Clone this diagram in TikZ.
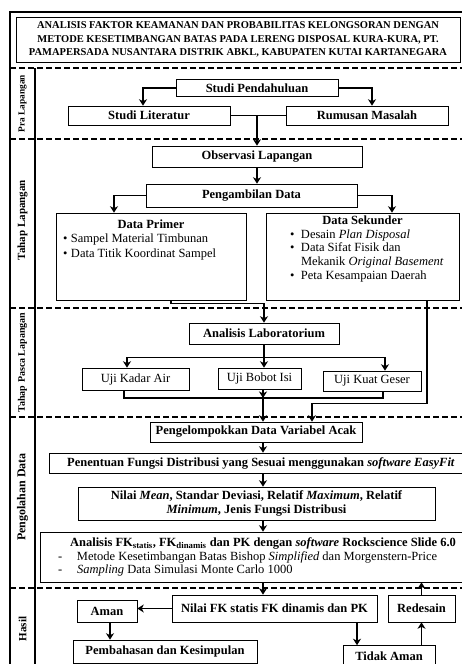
\documentclass[tikz,border=0pt]{standalone}
\usepackage{fontspec}
\setmainfont{Liberation Serif}
\usetikzlibrary{positioning, arrows.meta}

\newcommand{\boxfont}{\fontsize{12.5}{13.6}\selectfont}

\begin{document}
\begin{tikzpicture}[x=1pt, y=-1pt,
  stage/.style={draw, line width=0.6pt, inner sep=1pt, align=center, font=\boxfont\bfseries},
  plain/.style={stage, font=\boxfont},
  phase/.style={rotate=90, inner sep=0pt},
  flow/.style={line width=1.5pt, -{Stealth[length=6.5pt, width=8pt, inset=2pt]}},
  link/.style={line width=1.5pt},
  border/.style={dash pattern=on 6pt off 3pt, line width=1.3pt},
]
  \path[use as bounding box, clip] (0,0) rectangle (462,664);

  \draw[line width=1.6pt] (480,12) -- (10,12) -- (10,680);
  \draw[line width=2.4pt] (35,68) -- (35,680);
  \foreach \y in {68,139,308,417,588}
    \draw[border] (10,\y) -- (480,\y);

  \node[stage, font=\fontsize{10.5}{13.5}\selectfont\bfseries, minimum width=444pt, minimum height=45pt] (title) at (238,39.5)
    {ANALISIS FAKTOR KEAMANAN DAN PROBABILITAS KELONGSORAN DENGAN\\
     METODE KESETIMBANGAN BATAS PADA LERENG DISPOSAL KURA-KURA, PT.\\
     PAMAPERSADA NUSANTARA DISTRIK ABKL, KABUPATEN KUTAI KARTANEGARA};

  \node[phase, font=\fontsize{9.3}{10}\selectfont\bfseries] (pra) at (22.5,103.5) {Pra Lapangan};
  \node[phase, font=\fontsize{11}{12}\selectfont\bfseries] (lapangan) at (22.5,220) {Tahap Lapangan};
  \node[phase, font=\fontsize{10}{11}\selectfont\bfseries] (pasca) at (22.5,362.5) {Tahap Pasca Lapangan};
  \node[phase, font=\fontsize{12}{13}\selectfont\bfseries] (olah) at (22.5,497) {Pengolahan Data};
  \node[phase, font=\fontsize{11}{12}\selectfont\bfseries] (hasil) at (22.5,629) {Hasil};

  \node[stage, minimum width=162pt, minimum height=17pt] (pendahuluan) at (257,88) {Studi Pendahuluan};
  \node[stage, minimum width=162pt, minimum height=19pt] (literatur) at (149,115.5) {Studi Literatur};
  \node[stage, minimum width=162pt, minimum height=19pt] (rumusan) at (367,115.5) {Rumusan Masalah};
  \node[stage, minimum width=210pt, minimum height=21pt] (observasi) at (257,156.5) {Observasi Lapangan};
  \node[stage, minimum width=211pt, minimum height=23pt] (pengambilan) at (251.5,195.5) {Pengambilan Data};

  \node[plain, inner sep=3pt] (primer) at (151,256.5) {\parbox[t][81pt][t]{184pt}{\vspace*{4pt}%
    {\centering\bfseries Data Primer\par}
    \hspace*{4pt}\makebox[8pt][l]{\textbullet}Sampel Material Timbunan\\[1.4pt]
    \hspace*{4pt}\makebox[8pt][l]{\textbullet}Data Titik Koordinat Sampel}};
  \node[plain, inner sep=3pt] (sekunder) at (362.5,256.5) {\parbox[t][81pt][t]{187pt}{%
    {\centering\bfseries Data Sekunder\par}
    \hspace*{21pt}\makebox[11pt][l]{\textbullet}Desain \textit{Plan Disposal}\\
    \hspace*{21pt}\makebox[11pt][l]{\textbullet}Data Sifat Fisik dan\\
    \hspace*{32pt}Mekanik \textit{Original Basement}\\
    \hspace*{21pt}\makebox[11pt][l]{\textbullet}Peta Kesampaian Daerah}};

  \node[stage, minimum width=150pt, minimum height=21pt] (analab) at (264,333.5) {Analisis Laboratorium};
  \node[plain, minimum width=107pt, minimum height=22pt] (kadar) at (135.5,379) {Uji Kadar Air};
  \node[plain, minimum width=83pt, minimum height=21pt] (bobot) at (259.5,378.5) {Uji Bobot Isi};
  \node[plain, minimum width=98pt, minimum height=20pt] (geser) at (372,381) {Uji Kuat Geser};

  \node[stage, minimum width=212pt, minimum height=20pt] (kelompok) at (256,432) {Pengelompokkan Data Variabel Acak};
  \node[stage, minimum width=424pt, minimum height=20pt] (penentuan) at (261,463)
    {Penentuan Fungsi Distribusi yang Sesuai menggunakan \textit{software EasyFit}};
  \node[stage, minimum width=357pt, minimum height=33pt] (nilaimean) at (256.5,503.5)
    {Nilai \textit{Mean}, Standar Deviasi, Relatif \textit{Maximum}, Relatif\\
     \textit{Minimum}, Jenis Fungsi Distribusi};
  \node[plain, inner sep=3pt, minimum height=50pt] (analisisfk) at (263,557) {\parbox{440pt}{%
    {\centering\bfseries Analisis FK\textsubscript{statis}, FK\textsubscript{dinamis} dan PK dengan \textit{software} Rockscience Slide 6.0\par}
    \hspace*{15pt}\makebox[19pt][l]{-}Metode Kesetimbangan Batas Bishop \textit{Simplified} dan Morgenstern-Price\\
    \hspace*{15pt}\makebox[19pt][l]{-}\textit{Sampling} Data Simulasi Monte Carlo 1000}};

  \node[stage, minimum width=205pt, minimum height=27pt] (nilaifk) at (274.5,608.5) {Nilai FK statis FK dinamis dan PK};
  \node[stage, minimum width=60pt, minimum height=22pt] (aman) at (107,611) {Aman};
  \node[stage, minimum width=67pt, minimum height=27pt] (redesain) at (421.5,608.5) {Redesain};
  \node[stage, minimum width=184pt, minimum height=23pt] (pembahasan) at (165,651.5) {Pembahasan dan Kesimpulan};
  \node[stage, minimum width=92pt, minimum height=21pt] (tidakaman) at (389,656) {Tidak Aman};

  \draw[flow] (pendahuluan.west) -| ([xshift=-6pt]literatur.north);
  \draw[flow] (pendahuluan.east) -| ([xshift=5pt]rumusan.north);
  \draw[link] (literatur) -- (rumusan);
  \draw[flow] (observasi.north |- literatur.east) -- (observasi.north);
  \draw[flow] (observasi.south) -- (observasi.south |- pengambilan.north);
  \draw[flow] (pengambilan.west) -| ([xshift=-37pt]primer.north);
  \draw[flow] (pengambilan.east) -| ([xshift=29.5pt]sekunder.north);
  \draw[flow] ([xshift=20pt]primer.south) -- ++(0,3) -| (analab.north);
  \draw[flow] ([xshift=64.5pt]sekunder.south) -- ++(0,103) -| ([xshift=56pt]kelompok.north);

  \coordinate (labsplit) at ([yshift=-13pt]analab.south);
  \draw[flow] (analab.south) -- (analab.south |- bobot.north);
  \draw[flow] (labsplit) -| ([xshift=-8.5pt]kadar.north);
  \draw[flow] (labsplit) -| ([xshift=13pt]geser.north);

  \coordinate (ujimerge) at (263,398);
  \draw[link] ([xshift=-11.5pt]kadar.south) |- (ujimerge) -| ([xshift=11pt]geser.south);
  \draw[flow] (ujimerge |- bobot.south) -- (ujimerge);
  \draw[flow] (ujimerge) -- (ujimerge |- kelompok.north);
  \draw[flow] (ujimerge |- kelompok.south) -- (ujimerge |- penentuan.north);
  \draw[flow] (ujimerge |- penentuan.south) -- (ujimerge |- nilaimean.north);
  \draw[flow] (ujimerge |- nilaimean.south) -- (ujimerge |- analisisfk.north);
  \draw[flow] (ujimerge |- analisisfk.south) -- (ujimerge |- nilaifk.north);

  \draw[flow] (nilaifk.west) -- (nilaifk.west -| aman.east);
  \draw[flow] ([xshift=3pt]aman.south) -- ([xshift=3pt]aman.south |- pembahasan.north);
  \draw[flow] ([xshift=82.5pt]nilaifk.south) -- ([xshift=82.5pt]nilaifk.south |- tidakaman.north);
  \draw[flow] (redesain.south |- tidakaman.north) -- (redesain.south);
  \draw[flow] (redesain.north) -- (redesain.north |- analisisfk.south);
\end{tikzpicture}
\end{document}
